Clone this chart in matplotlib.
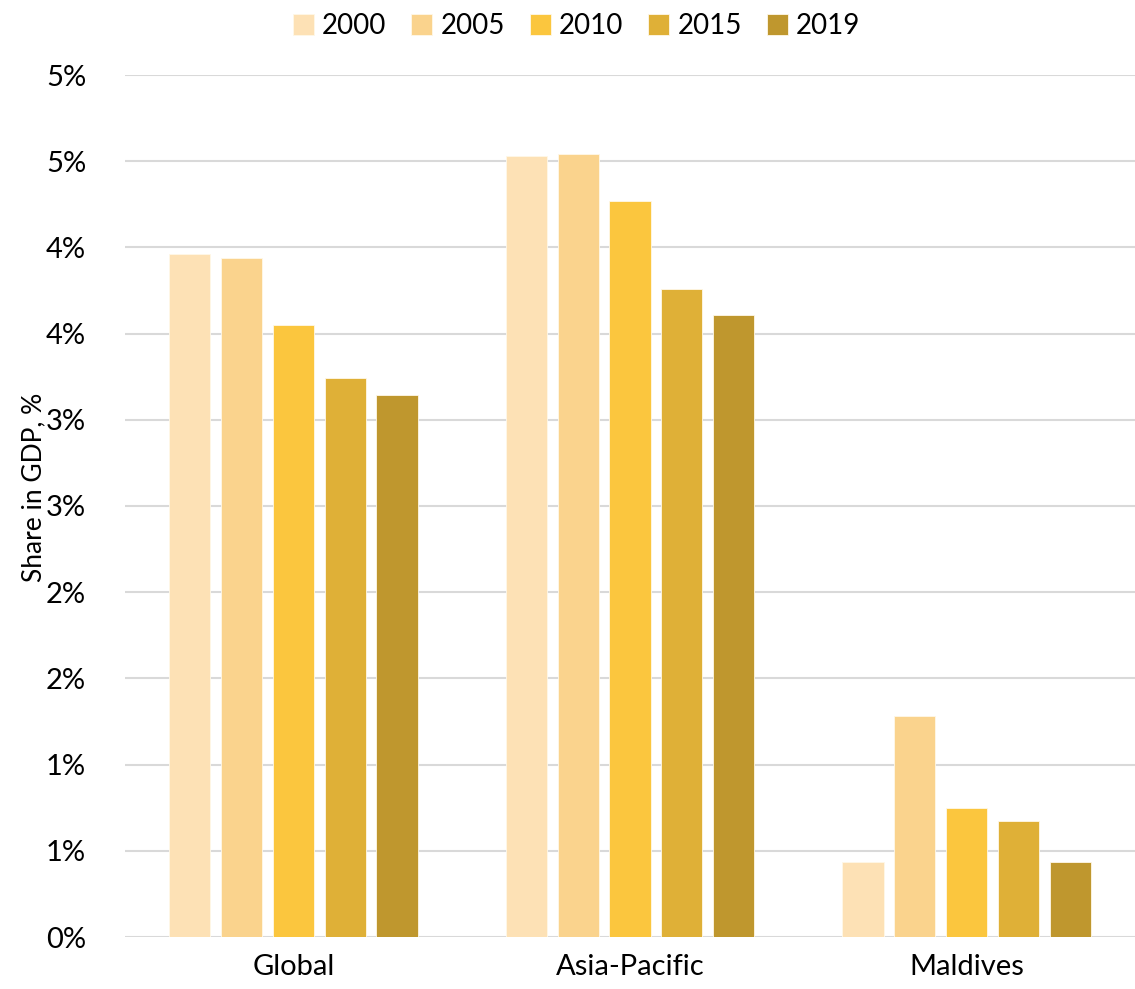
import matplotlib

matplotlib.use("Agg")

import matplotlib.pyplot as plt
import numpy as np
from matplotlib.ticker import FuncFormatter

regions = ["Global", "Asia-Pacific", "Maldives"]
years = ["2000", "2005", "2010", "2015", "2019"]
values = {
    "2000": [3.96, 4.53, 0.435],
    "2005": [3.94, 4.54, 1.28],
    "2010": [3.55, 4.27, 0.75],
    "2015": [3.24, 3.76, 0.67],
    "2019": [3.145, 3.61, 0.435],
}
colors = ["#FDE1B5", "#FAD38D", "#FBC63E", "#DFB037", "#BF972E"]

plt.rcParams["font.family"] = ["Lato", "DejaVu Sans"]

fig = plt.figure(figsize=(11.35, 9.89), dpi=100)
ax = fig.add_axes([125 / 1135, 1 - 937 / 989, 1010 / 1135, 862 / 989])

x = np.arange(len(regions))
width = 0.122
step = 0.154
for i, (year, color) in enumerate(zip(years, colors)):
    ax.bar(x + (i - 2) * step, values[year], width, color=color,
           edgecolor="#FFF8E8", linewidth=0.6, label=year, zorder=3)

ax.set_xlim(-0.5, len(regions) - 0.5)
ax.set_ylim(0, 5.0)
ax.set_yticks(np.arange(0, 5.01, 0.5))


def pct(v, _pos):
    # Excel-style rounding (half up)
    return f"{int(np.floor(v + 0.5 + 1e-9))}%"


ax.yaxis.set_major_formatter(FuncFormatter(pct))
ax.set_xticks(x)
ax.set_xticklabels(regions)
ax.grid(axis="y", color="#D9D9D9", linewidth=1.5, zorder=0)
for side in ["top", "right", "left", "bottom"]:
    ax.spines[side].set_visible(False)
ax.tick_params(axis="both", length=0, labelsize=21, colors="black")
ax.tick_params(axis="x", pad=12)
ax.tick_params(axis="y", pad=28)
ax.set_ylabel("Share in GDP, %", fontsize=19)
ax.yaxis.set_label_coords(-0.078, 0.522)

fig.legend(loc="upper center", bbox_to_anchor=(0.508, 1.012), ncol=5,
           frameon=False, fontsize=20, handlelength=0.75, handleheight=0.75,
           handletextpad=0.3, columnspacing=0.9)

plt.savefig("out.png", dpi=100)
plt.close()
